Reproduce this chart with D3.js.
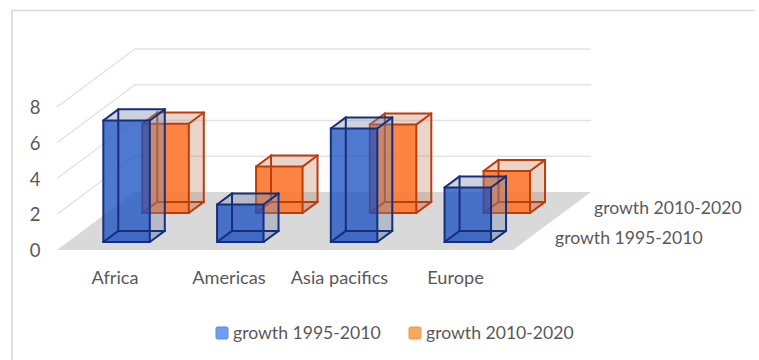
<!DOCTYPE html>
<html><head><meta charset="utf-8">
<script src="https://cdn.jsdelivr.net/npm/d3@7"></script>
<style>html,body{margin:0;padding:0;background:#fff}svg{display:block}text{font-family:Lato,"Open Sans",sans-serif;fill:#595959}</style>
</head><body><svg id="c" width="759" height="360"></svg>
<script>
const categories = ["Africa","Americas","Asia pacifics","Europe"];
const seriesNames = ["growth 1995-2010","growth 2010-2020"];
const growth1995 = [6.8,2.1,6.35,3.05];
const growth2010 = [5.0,2.6,4.95,2.35];
const yTicks = [0,2,4,6,8];

const svg = d3.select("#c");
// Frame
svg.append("path").attr("d","M12,360V10.5H755").attr("fill","none").attr("stroke","#d9d9d9").attr("stroke-width",1.6);

// Oblique projection: x along categories, v = value, z = series depth (0 front ... 1 back)
const x = d3.scaleBand().domain(categories).range([59,514]);
const v = d3.scaleLinear().domain([0,8]).range([0,143]);
const zx = d3.scaleLinear().domain([0,1]).range([0,78]);
const zy = d3.scaleLinear().domain([0,1]).range([0,58]);
const baseY = 250;
const P = (px,val,z)=>[px+zx(z), baseY-v(val)-zy(z)];
const line = d3.line();
const poly = pts=>line(pts)+"Z";

// Floor
const fx0=57, fx1=513;
svg.append("path").attr("d",poly([P(fx0,0,0),P(fx1,0,0),P(fx1,0,1),P(fx0,0,1)])).attr("fill","#d9d9d9");

// Gridlines
yTicks.slice(1).forEach(t=>{
  svg.append("path").attr("d",line([P(fx0,t,0),P(fx0,t,1),P(fx1,t,1)]))
    .attr("fill","none").attr("stroke","#e3e3e3").attr("stroke-width",1.5);
});

// Y tick labels
svg.append("g").selectAll("text").data(yTicks).join("text")
  .attr("x",35).attr("y",d=>baseY-v(d)+7).attr("text-anchor","middle").attr("font-size",18.5).text(d=>d);

// Category labels
const labelX = {"Africa":115,"Americas":229,"Asia pacifics":339.5,"Europe":455.5};
svg.append("g").selectAll("text").data(categories).join("text")
  .attr("x",d=>labelX[d]).attr("y",284).attr("text-anchor","middle").attr("font-size",18.2).text(d=>d);

// Series depth labels
svg.append("text").attr("x",594).attr("y",214).attr("font-size",17.6).text(seriesNames[1]);
svg.append("text").attr("x",555).attr("y",244).attr("font-size",17.6).text(seriesNames[0]);

// Boxes
const barW = 46.5, dz = 0.192, zBox = [0.137,0.637];
function box(cat,val,s,front,frontOp,side,sideOp,edge){
  const l = x(cat)+x.bandwidth()/2-barW/2, r = l+barW, z0 = zBox[s], z1 = z0+dz;
  const g = svg.append("g");
  const fl=P(l,0,z0), fr=P(r,0,z0), ft=P(l,val,z0), ftr=P(r,val,z0);
  const bl=P(l,0,z1), br=P(r,0,z1), bt=P(l,val,z1), btr=P(r,val,z1);
  const face=(pts,fill,op)=>g.append("path").attr("d",poly(pts)).attr("fill",fill).attr("fill-opacity",op);
  face([fl,fr,br,bl],side,sideOp);     // bottom
  face([fr,br,btr,ftr],side,sideOp);   // right
  face([ft,ftr,btr,bt],side,sideOp);   // top
  face([fl,fr,ftr,ft],front,frontOp);  // front
  const edges=[[bl,br],[br,btr],[btr,bt],[bt,bl],[fl,bl],[fr,br],[ftr,btr],[ft,bt],[fl,fr],[fr,ftr],[ftr,ft],[ft,fl]];
  edges.forEach(e=>g.append("path").attr("d",line(e)).attr("fill","none").attr("stroke",edge).attr("stroke-width",2).attr("stroke-linecap","round"));
}
const colors = [["#1d52c2",0.78,"#7f90b0",0.4,"#162f7c"],["#fb7a32",0.92,"#c08060",0.33,"#bd3c0c"]];
categories.forEach((c,i)=>box(c,growth2010[i],1,...colors[1]));
categories.forEach((c,i)=>box(c,growth1995[i],0,...colors[0]));

// Legend
const lg = [[216,seriesNames[0],"#6f9df5","#5d89dc"],[409,seriesNames[1],"#f9a860","#ee9a50"]];
lg.forEach(([lx,name,f,st])=>{
  svg.append("rect").attr("x",lx).attr("y",327).attr("width",12).attr("height",12).attr("rx",1.5).attr("fill",f).attr("stroke",st).attr("stroke-width",1);
  svg.append("text").attr("x",lx+17).attr("y",339).attr("font-size",17.6).text(name);
});
</script></body></html>
